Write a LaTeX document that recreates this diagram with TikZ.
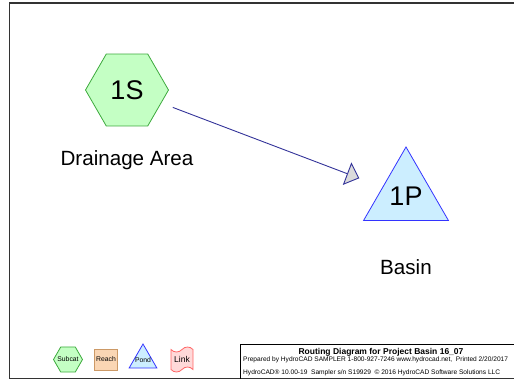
\documentclass[tikz,border=0pt]{standalone}
\usepackage{fontspec}
\setmainfont{Liberation Sans}
\usetikzlibrary{shapes.geometric, shapes.symbols, positioning, arrows.meta}

\definecolor{subfill}{HTML}{C4FFC4}
\definecolor{subdraw}{HTML}{3DAA3D}
\definecolor{pondfill}{HTML}{CCEEFF}
\definecolor{ponddraw}{HTML}{3333FF}
\definecolor{reachfill}{HTML}{FAD6B4}
\definecolor{reachdraw}{HTML}{CC9966}
\definecolor{linkfill}{HTML}{FFD9D9}
\definecolor{linkdraw}{HTML}{FF6666}
\definecolor{flowcol}{HTML}{333399}
\definecolor{framecol}{HTML}{333333}

\begin{document}
\begin{tikzpicture}[
    x=1pt, y=-1pt,
    subcat/.style={regular polygon, regular polygon sides=6, inner sep=0pt, text centered, draw=subdraw, fill=subfill, line width=0.8pt},
    pond/.style={regular polygon, regular polygon sides=3, inner sep=0pt, text centered, draw=ponddraw, fill=pondfill, line width=0.8pt},
    reach/.style={rectangle, inner sep=0pt, text centered, draw=reachdraw, fill=reachfill, line width=0.8pt},
    link/.style={tape, inner sep=0pt, text centered, draw=linkdraw, fill=linkfill, line width=0.8pt},
    bigid/.style={font=\fontsize{27}{30}\selectfont},
    areaname/.style={font=\fontsize{20.6}{24}\selectfont},
    keytext/.style={font=\fontsize{6.8}{8}\selectfont, inner sep=-6pt},
    flow/.style={draw=flowcol, line width=0.9pt, line join=miter, -{Triangle[length=13pt, width=24pt, fill=black!14]}},
    frameline/.style={draw=framecol, line width=1.6pt},
    boxline/.style={draw=black, line width=0.8pt},
]
\useasboundingbox (0,0) rectangle (514,381);

% Page frame
\draw[frameline] (530,3) -- (9.5,3) -- (9.5,378.5) -- (530,378.5);

% Subcatchment
\node[subcat, bigid, minimum size=83pt] (sub1) at (127,90) {1S};
\node[areaname] (sub1name) at (127,160) {Drainage Area};

% Pond
\node[pond, bigid, minimum size=98pt] (pond1) at (406,196) {1P};
\node[areaname] (pond1name) at (406,267) {Basin};

% Routing
\draw[flow, shorten <=49pt, shorten >=50pt] (sub1.center) -- (pond1.center);

% Key
\node[subcat, keytext, minimum size=29pt] (keysub) at (68,359.5) {Subcat};
\node[reach, keytext, minimum width=23pt, minimum height=21pt] (keyreach) at (106,359.5) {Reach};
\node[pond, keytext, minimum size=32pt] (keypond) at (143,360) {Pond};
\node[link, font=\fontsize{8.5}{10}\selectfont, minimum width=22pt, minimum height=25pt] (keylink) at (182,359.5) {Link};

% Title block
\draw[boxline] (240,378.5) -- (240,344) -- (530,344);
\node[font=\fontsize{8.5}{10}\selectfont\bfseries] (title) at (381,352.5) {Routing Diagram for Project Basin 16\_07};
\node[anchor=west, inner sep=0pt, font=\fontsize{6.6}{8}\selectfont] (prepared) at (243,360) {Prepared by HydroCAD SAMPLER 1-800-927-7246 www.hydrocad.net,\ \ Printed 2/20/2017};
\node[anchor=west, inner sep=0pt, font=\fontsize{6.6}{8}\selectfont] (serial) at (243,372.5) {HydroCAD® 10.00-19\ \ Sampler s/n S19929\ \ © 2016 HydroCAD Software Solutions LLC};

\end{tikzpicture}
\end{document}
